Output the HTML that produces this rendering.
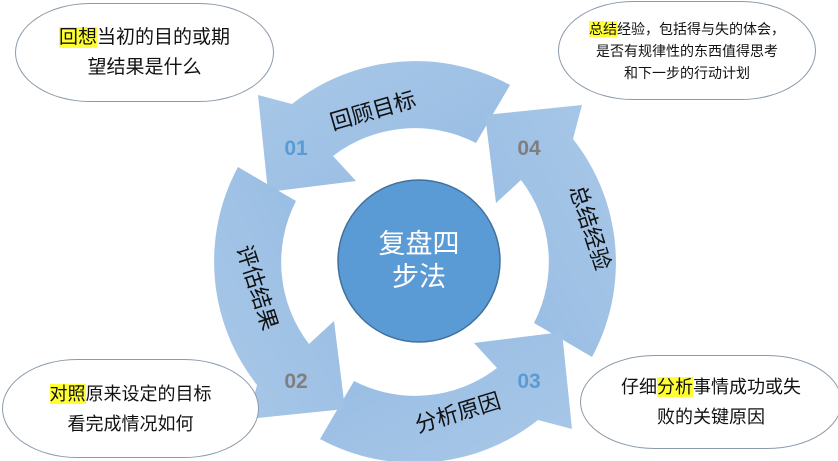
<!DOCTYPE html>
<html><head><meta charset="utf-8"><style>
body{margin:0;width:838px;height:461px;background:#fff;overflow:hidden;position:relative;font-family:"Liberation Sans","Noto Sans CJK SC",sans-serif;}
.b{position:absolute;border:1.5px solid #8a9aaa;border-radius:75px/50%;background:#fff;box-sizing:border-box;display:flex;flex-direction:column;justify-content:center;align-items:center;color:#111;text-align:center;}
.hl{background:#ffff33;}
</style></head><body>
<svg width="838" height="461" style="position:absolute;left:0;top:0">
<defs><linearGradient id="g" x1="0" y1="0" x2="1" y2="1"><stop offset="0" stop-color="#a9c8e8"/><stop offset="1" stop-color="#95bbe2"/></linearGradient></defs>
<g fill="url(#g)">
<path id="a1" d="M510,85 A199,199 0 0,0 292,104 L258,95 L268,192 L356,181 L333,156 A134,134 0 0,1 476,143 Z"/>
<use href="#a1" transform="rotate(90 415 262)"/>
<use href="#a1" transform="rotate(180 415 262)"/>
<use href="#a1" transform="rotate(270 415 262)"/>
</g>
<circle cx="419" cy="261" r="81" fill="#5b9bd5" stroke="#41719c" stroke-width="1.5"/>
<text x="419" y="253" font-size="27" fill="#fff" text-anchor="middle" font-family="Liberation Sans,Noto Sans CJK SC,sans-serif">复盘四</text>
<text x="419" y="286" font-size="27" fill="#fff" text-anchor="middle" font-family="Liberation Sans,Noto Sans CJK SC,sans-serif">步法</text>
<g font-family="Liberation Sans,Noto Sans CJK SC,sans-serif" font-size="22" fill="#111" text-anchor="middle">
<text transform="translate(375,118) rotate(-16)">回顾目标</text>
<text transform="translate(250,290) rotate(72)">评估结果</text>
<text transform="translate(460,420) rotate(-17)">分析原因</text>
<text transform="translate(583,230) rotate(72)">总结经验</text>
</g>
<g font-family="Liberation Sans,sans-serif" font-size="21" font-weight="bold" text-anchor="middle">
<text x="296" y="155" fill="#5b9bd5">01</text>
<text x="296" y="388" fill="#7f7f7f">02</text>
<text x="529" y="388" fill="#5b9bd5">03</text>
<text x="529" y="155" fill="#7f7f7f">04</text>
</g>
</svg>
<div class="b" style="left:15px;top:3px;width:259px;height:99px;font-size:19px;line-height:30px;"><div><span class="hl">回想</span>当初的目的或期</div><div>望结果是什么</div></div>
<div class="b" style="left:558px;top:1px;width:258px;height:99px;font-size:14px;line-height:22px;"><div><span class="hl">总结</span>经验，包括得与失的体会，</div><div>是否有规律性的东西值得思考</div><div>和下一步的行动计划</div></div>
<div class="b" style="left:2px;top:359px;width:257px;height:99px;font-size:18px;line-height:30px;"><div><span class="hl">对照</span>原来设定的目标</div><div>看完成情况如何</div></div>
<div class="b" style="left:580px;top:355px;width:262px;height:94px;font-size:18px;line-height:30px;"><div>仔细<span class="hl">分析</span>事情成功或失</div><div>败的关键原因</div></div>
</body></html>
